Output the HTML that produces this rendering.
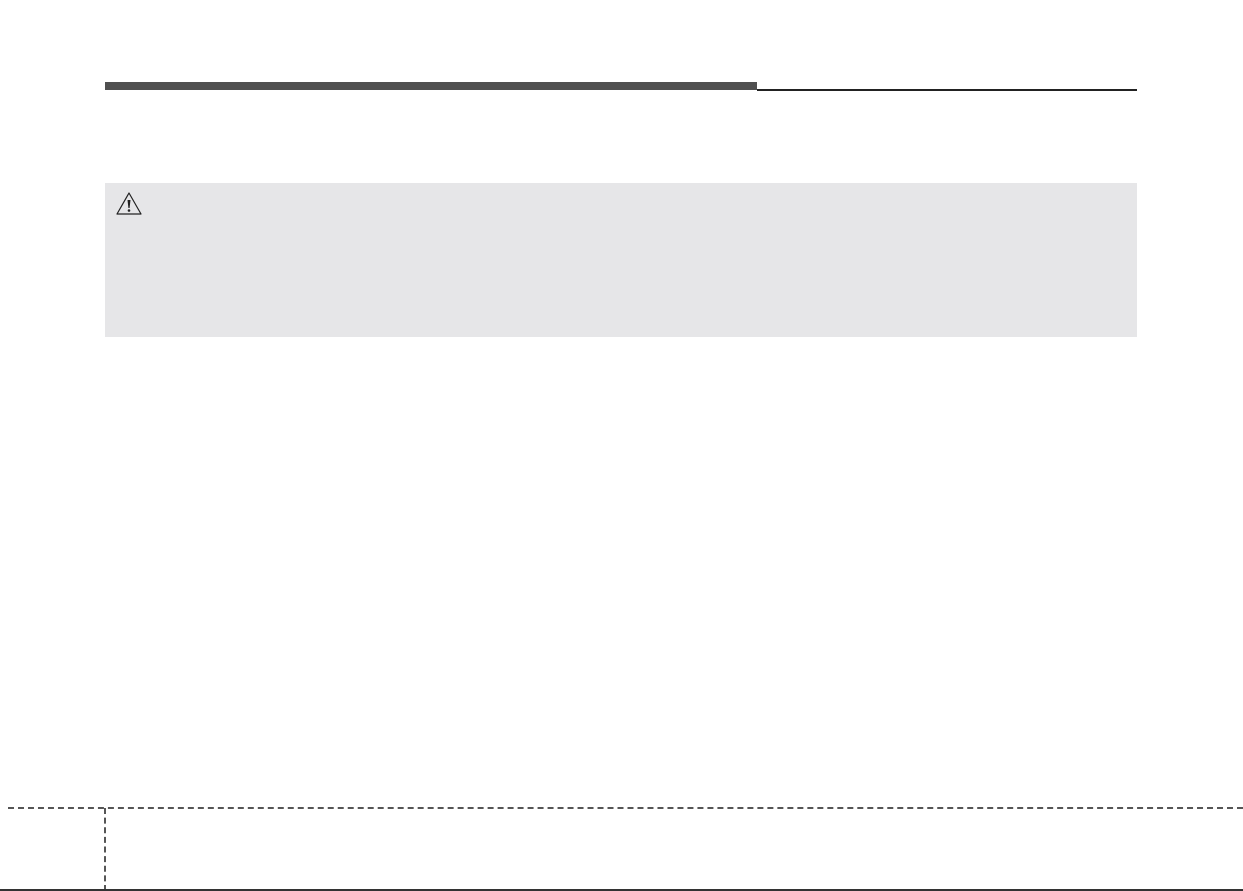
<!DOCTYPE html>
<html><head><style>
body{margin:0;width:1243px;height:891px;background:#fff;position:relative;overflow:hidden;font-family:"Liberation Sans",sans-serif}
div{position:absolute}
</style></head><body>
<div style="left:105px;top:82px;width:652px;height:8px;background:#505050"></div>
<div style="left:757px;top:89px;width:380px;height:1.5px;background:#222"></div>
<div style="left:105px;top:183px;width:1032px;height:154px;background:#e6e6e8"></div>
<svg style="position:absolute;left:115px;top:191px" width="28" height="26" viewBox="0 0 28 26">
<polygon points="14,2 26,23 2,23" fill="none" stroke="#222" stroke-width="1.2" stroke-linejoin="round"/>
<path d="M12.5,9 L15.5,9 L14.6,17 L13.4,17 Z" fill="#222"/>
<circle cx="14" cy="19.5" r="1.3" fill="#222"/>
</svg>
<div style="left:8px;top:807px;width:1235px;height:0;border-top:2px dashed #555"></div>
<div style="left:104px;top:808px;width:0;height:83px;border-left:2px dashed #555"></div>
<div style="left:0;top:889px;width:1243px;height:2px;background:#333"></div>
</body></html>
